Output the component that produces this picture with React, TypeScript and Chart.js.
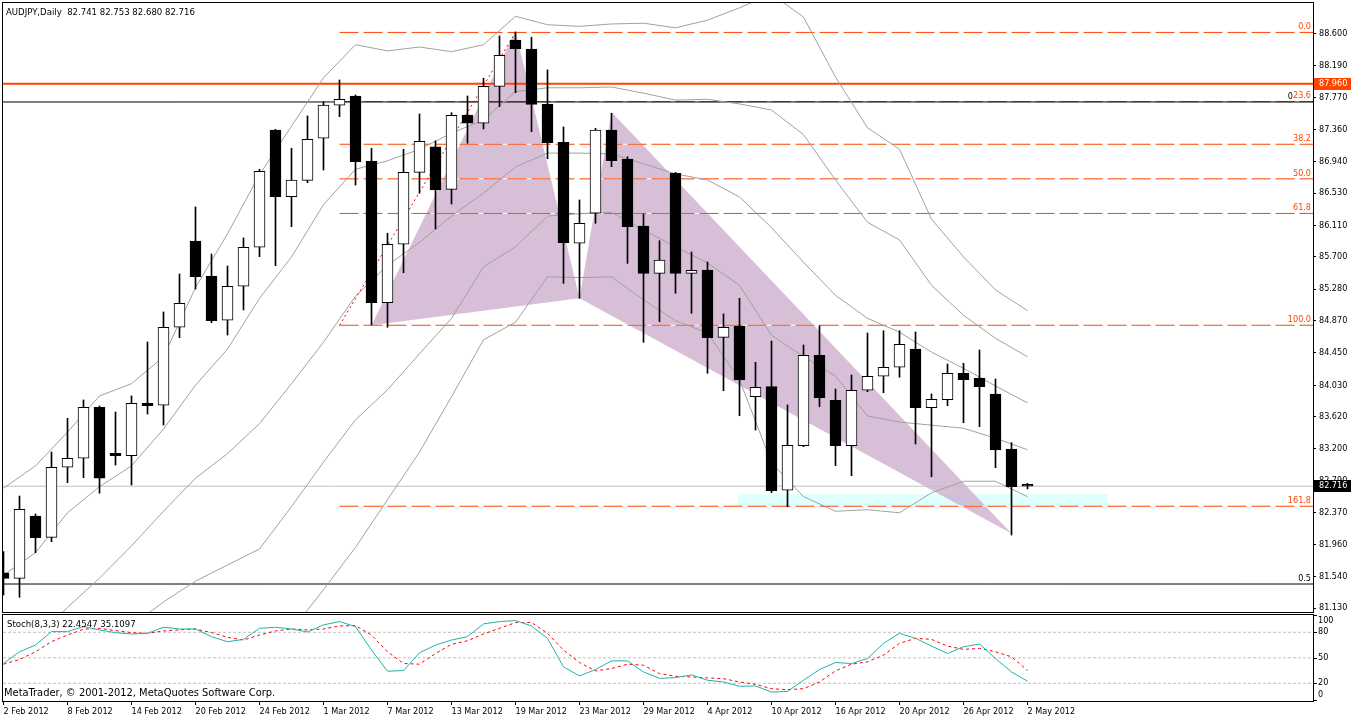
import React, { useEffect, useRef } from 'react';
import { Chart, registerables } from 'chart.js';

Chart.register(...registerables);

const FONT = '"DejaVu Sans Condensed", "DejaVu Sans", sans-serif';
const ORANGE = '#ff4500';

// AUDJPY daily bars, 2 Feb 2012 .. 2 May 2012 (bar index = x value)
const opens = [
  81.590, 81.517, 82.328, 82.051, 82.962, 83.079, 83.743, 83.144, 83.113, 83.795,
  83.769, 84.784, 85.906, 85.451, 84.875, 85.317, 85.825, 87.351, 86.483, 86.696,
  87.243, 87.672, 87.793, 86.947, 85.104, 85.864, 86.800, 87.130, 86.579, 87.546,
  87.438, 87.919, 88.522, 88.405, 87.685, 87.191, 85.877, 86.267, 87.351, 86.973,
  86.102, 85.486, 86.787, 85.486, 85.529, 84.653, 84.800, 83.881, 84.011, 82.663,
  83.243, 84.419, 83.834, 83.243, 83.964, 84.146, 84.263, 84.501, 83.737, 83.842,
  84.185, 84.124, 83.916, 83.200, 82.741,
];
const highs = [
  81.864, 82.588, 82.354, 83.161, 83.600, 83.838, 83.760, 83.681, 83.890, 84.592,
  84.983, 85.477, 86.349, 85.737, 85.581, 85.946, 86.839, 87.360, 87.113, 87.533,
  87.719, 88.001, 87.806, 87.113, 86.007, 87.100, 87.559, 87.208, 87.576, 87.793,
  88.024, 88.574, 88.626, 88.557, 88.132, 87.390, 86.440, 87.373, 87.568, 87.003,
  86.258, 85.910, 86.800, 85.763, 85.633, 84.957, 85.161, 84.328, 84.605, 83.773,
  84.553, 84.804, 83.981, 84.163, 84.709, 84.739, 84.739, 84.722, 83.916, 84.306,
  84.315, 84.488, 84.111, 83.282, 82.753,
];
const lows = [
  81.300, 81.270, 81.851, 81.994, 82.762, 82.827, 82.624, 82.992, 82.732, 83.655,
  83.512, 84.648, 85.282, 84.843, 84.683, 85.009, 85.702, 85.585, 86.093, 86.665,
  86.830, 87.524, 86.635, 84.814, 84.784, 85.494, 86.527, 86.063, 86.388, 87.178,
  87.364, 87.654, 87.836, 87.329, 86.977, 85.356, 85.161, 86.137, 86.873, 85.616,
  84.588, 84.856, 85.226, 84.966, 84.185, 83.959, 83.633, 83.447, 82.631, 82.449,
  83.230, 83.750, 82.983, 82.853, 83.946, 83.933, 84.133, 83.265, 82.840, 83.763,
  83.542, 83.490, 82.957, 82.081, 82.680,
];
const closes = [
  81.517, 82.415, 82.046, 82.962, 83.079, 83.743, 82.819, 83.113, 83.795, 83.763,
  84.784, 85.096, 85.442, 84.869, 85.317, 85.825, 86.813, 86.483, 86.700, 87.230,
  87.676, 87.750, 86.938, 85.104, 85.864, 86.800, 87.204, 86.570, 87.542, 87.438,
  87.919, 88.323, 88.409, 87.685, 87.186, 85.884, 86.137, 87.351, 86.951, 86.093,
  85.486, 85.659, 85.486, 85.525, 84.648, 84.784, 84.098, 84.003, 82.657, 83.248,
  84.419, 83.868, 83.243, 83.964, 84.146, 84.263, 84.562, 83.737, 83.847, 84.185,
  84.102, 84.011, 83.187, 82.709, 82.716,
];

const dateTicks = [0, 4, 8, 12, 16, 20, 24, 28, 32, 36, 40, 44, 48, 52, 56, 60, 64];
const dateLabels = [
  '2 Feb 2012', '8 Feb 2012', '14 Feb 2012', '20 Feb 2012', '24 Feb 2012', '1 Mar 2012',
  '7 Mar 2012', '13 Mar 2012', '19 Mar 2012', '23 Mar 2012', '29 Mar 2012', '4 Apr 2012',
  '10 Apr 2012', '16 Apr 2012', '20 Apr 2012', '26 Apr 2012', '2 May 2012',
];

const priceTicks = [
  88.6, 88.19, 87.77, 87.36, 86.94, 86.53, 86.11, 85.7, 85.28, 84.87,
  84.45, 84.03, 83.62, 83.2, 82.79, 82.37, 81.96, 81.54, 81.13,
];

// bollinger-style envelopes, read every second bar
const bandBars = [
  0, 2, 4, 6, 8, 10, 12, 14, 16, 18, 20, 22, 24, 26, 28, 30, 32,
  34, 36, 38, 40, 42, 44, 46, 48, 50, 52, 54, 56, 58, 60, 62, 64,
];
const bandUpper2 = [
  82.69, 82.98, 83.42, 83.89, 84.05, 84.40, 85.30, 86.00, 86.77, 87.40, 88.03, 88.46, 88.38, 88.43, 88.37, 88.46, 88.83,
  88.72, 88.70, 88.73, 88.74, 88.68, 88.78, 88.94, 89.12, 88.82, 88.04, 87.38, 87.10, 86.19, 85.70, 85.27, 85.00,
];
const bandUpper1 = [
  81.56, 81.85, 82.37, 82.71, 82.98, 83.46, 84.03, 84.50, 85.16, 85.70, 86.38, 86.84, 86.95, 87.10, 87.31, 87.48, 87.85,
  87.90, 87.90, 87.91, 87.83, 87.74, 87.75, 87.69, 87.61, 87.29, 86.70, 86.15, 85.92, 85.33, 84.94, 84.64, 84.40,
];
const bandMiddle = [
  80.43, 80.71, 81.14, 81.52, 81.94, 82.39, 82.82, 83.14, 83.53, 84.05, 84.59, 85.19, 85.59, 85.89, 86.23, 86.53, 86.87,
  87.05, 87.05, 87.04, 86.91, 86.78, 86.70, 86.48, 86.08, 85.63, 85.20, 84.90, 84.72, 84.46, 84.25, 84.02, 83.80,
];
const bandLower1 = [
  79.30, 79.58, 79.92, 80.34, 80.90, 81.21, 81.48, 81.69, 81.90, 82.45, 83.03, 83.58, 83.97, 84.44, 84.90, 85.57, 85.83,
  86.23, 86.26, 86.28, 86.05, 85.83, 85.62, 85.33, 84.68, 84.40, 84.15, 83.63, 83.55, 83.51, 83.47, 83.34, 83.19,
];
const bandLower2 = [
  78.16, 78.45, 78.70, 79.15, 79.86, 80.03, 80.14, 80.25, 80.27, 80.84, 81.37, 81.92, 82.54, 83.16, 83.88, 84.62, 84.85,
  85.44, 85.43, 85.44, 85.14, 84.87, 84.71, 84.10, 83.02, 82.58, 82.39, 82.41, 82.37, 82.63, 82.78, 82.78, 82.58,
];

// Stoch(8,3,3)
const stochK = [
  43.3, 57.1, 65.0, 80.8, 80.8, 86.7, 82.8, 79.6, 78.0, 78.8,
  85.9, 83.9, 83.9, 74.9, 68.9, 71.7, 84.7, 85.9, 83.9, 80.4,
  88.7, 92.6, 86.7, 59.1, 34.2, 35.0, 55.9, 65.0, 70.9, 74.9,
  89.9, 92.6, 93.8, 87.5, 72.9, 39.3, 28.7, 36.2, 46.4, 46.4,
  33.4, 25.9, 26.7, 29.9, 23.6, 21.6, 16.5, 16.9, 9.7, 10.5,
  23.6, 36.2, 44.5, 43.3, 49.2, 67.0, 78.8, 72.9, 63.8, 55.1,
  63.0, 66.2, 49.2, 33.4, 22.4547,
];
const stochD = [
  42.5, 48.0, 57.1, 69.0, 76.8, 83.6, 84.7, 82.0, 79.6, 78.8,
  81.6, 82.8, 83.9, 79.6, 74.1, 70.9, 76.8, 81.6, 83.9, 82.8,
  83.9, 87.5, 87.9, 76.8, 57.1, 43.3, 42.5, 55.1, 65.8, 70.1,
  78.0, 84.7, 91.4, 91.6, 78.8, 59.1, 44.5, 34.6, 37.4, 42.5,
  41.3, 31.5, 28.3, 27.5, 26.3, 25.5, 21.6, 18.8, 13.7, 12.5,
  13.7, 21.6, 34.6, 42.5, 45.3, 53.2, 67.0, 72.9, 71.7, 63.8,
  59.9, 61.1, 57.1, 51.2, 35.1097,
];
const stochLevels = [80, 50, 20];
const stochAxisLabels = [100, 80, 50, 20, 0];

// chart objects
const fibLevels = ['0.0', '23.6', '38.2', '50.0', '61.8', '100.0', '161.8'];
const fibPrices = [88.62, 87.72, 87.165, 86.715, 86.265, 84.81, 82.455];
const fibStartBar = 21;
const trendBars = [21, 32];
const trendPrices = [84.81, 88.62];
const xabBars = [23, 32, 36];
const xabPrices = [84.81, 88.64, 85.16];
const bcdBars = [36, 38, 63];
const bcdPrices = [85.16, 87.585, 82.1];
const zoneBars = [45.9, 45.9, 69, 69];
const zonePrices = [82.445, 82.615, 82.615, 82.445];
const resistanceLevel = 87.953;
const blackLevel = 87.715;
const lowLevel = 81.443;
const bidLevel = 82.716;

const X_MIN = -0.03125;
const X_MAX = 81.84375;
const Y_MIN = 81.079;
const Y_MAX = 89.003;

const fmt3 = (v: number) => v.toFixed(3);

function lineSet(data: any[], color: string, extra: any = {}) {
  return {
    type: 'line',
    data,
    borderColor: color,
    borderWidth: 1,
    pointRadius: 0,
    fill: false,
    tension: 0,
    ...extra,
  };
}

function polygon(bars: number[], prices: number[], color: string, order: number) {
  return lineSet(
    bars.map((b, k) => ({ x: b, y: prices[k] })),
    'rgba(0,0,0,0)',
    { fill: 'shape', backgroundColor: color, order },
  );
}

const fullSpan = (v: number) => [{ x: X_MIN, y: v }, { x: X_MAX, y: v }];

const mainOverlay = {
  id: 'mainOverlay',
  afterDraw(chart: any) {
    const { ctx, chartArea: a } = chart;
    const y = chart.scales.y;
    ctx.save();
    ctx.strokeStyle = '#000';
    ctx.lineWidth = 1;
    ctx.strokeRect(a.left - 0.5, a.top - 0.5, a.right - a.left + 1, a.bottom - a.top + 1);

    ctx.font = `9.5px ${FONT}`;
    ctx.fillStyle = '#000';
    ctx.textAlign = 'left';
    ctx.textBaseline = 'middle';
    const n = closes.length - 1;
    ctx.fillText(
      `AUDJPY,Daily  ${fmt3(opens[n])} ${fmt3(highs[n])} ${fmt3(lows[n])} ${fmt3(closes[n])}`,
      6, 13,
    );

    ctx.font = `9px ${FONT}`;
    ctx.textAlign = 'right';
    ctx.textBaseline = 'bottom';
    ctx.fillText('0', 1293, y.getPixelForValue(blackLevel) - 1);
    ctx.fillText('0.5', 1311, y.getPixelForValue(lowLevel) - 1);
    ctx.fillStyle = ORANGE;
    fibPrices.forEach((p, k) => ctx.fillText(fibLevels[k], 1311, y.getPixelForValue(p) - 1));

    const box = (v: number, text: string, bg: string) => {
      const py = Math.round(y.getPixelForValue(v));
      ctx.fillStyle = bg;
      ctx.fillRect(a.right + 1, py - 6, chart.width - a.right - 1, 12);
      ctx.fillStyle = '#fff';
      ctx.textAlign = 'left';
      ctx.textBaseline = 'middle';
      ctx.fillText(text, a.right + 6, py);
    };
    box(resistanceLevel, '87.960', ORANGE);
    box(bidLevel, fmt3(bidLevel), '#000');
    ctx.restore();
  },
};

const stochOverlay = {
  id: 'stochOverlay',
  afterDraw(chart: any) {
    const { ctx, chartArea: a } = chart;
    const y = chart.scales.y;
    ctx.save();
    ctx.strokeStyle = '#000';
    ctx.lineWidth = 1;
    ctx.strokeRect(a.left - 0.5, a.top - 0.5, a.right - a.left + 1, a.bottom - a.top + 1);

    ctx.fillStyle = '#000';
    ctx.textBaseline = 'middle';
    ctx.textAlign = 'left';
    ctx.font = `9.5px ${FONT}`;
    const n = stochK.length - 1;
    ctx.fillText(`Stoch(8,3,3) ${stochK[n].toFixed(4)} ${stochD[n].toFixed(4)}`, 7, 13);
    ctx.font = `11px ${FONT}`;
    ctx.fillText('MetaTrader, \u00a9 2001-2012, MetaQuotes Software Corp.', 4, 81);

    ctx.font = `9px ${FONT}`;
    stochAxisLabels.forEach((v) => {
      const py = Math.round(y.getPixelForValue(v));
      const ty = Math.min(Math.max(py, a.top + 6), a.bottom - 6);
      ctx.fillRect(a.right + 1, py, 3, 1);
      ctx.fillText(String(v), a.right + 5, ty);
    });
    ctx.restore();
  },
};

export default function App() {
  const mainRef = useRef<HTMLCanvasElement | null>(null);
  const stochRef = useRef<HTMLCanvasElement | null>(null);

  useEffect(() => {
    document.body.style.margin = '0';
    if (!mainRef.current || !stochRef.current) return;

    const bars = closes.map((_, i) => i);
    const bodyColors = bars.map((i) => (closes[i] >= opens[i] ? '#ffffff' : '#000000'));
    const bandSets = [bandUpper2, bandUpper1, bandMiddle, bandLower1, bandLower2].map((arr) =>
      lineSet(arr.map((v, k) => ({ x: bandBars[k], y: v })), '#a0a0a0', { order: 3 }),
    );
    const fibSpan = (p: number) => [{ x: fibStartBar, y: p }, { x: X_MAX, y: p }];

    const mainChart = new Chart(mainRef.current, {
      type: 'bar',
      data: {
        datasets: [
          {
            type: 'bar',
            order: 0,
            data: bars.map((i) => ({ x: i, y: [opens[i], closes[i]] })),
            backgroundColor: bodyColors,
            borderColor: '#000',
            borderWidth: 1,
            borderSkipped: false,
            barThickness: 11,
            grouped: false,
            minBarLength: 1,
          },
          {
            type: 'bar',
            order: 1,
            data: bars.map((i) => ({ x: i, y: [lows[i], highs[i]] })),
            backgroundColor: '#000',
            borderWidth: 0,
            barThickness: 1,
            grouped: false,
          },
          lineSet(trendBars.map((b, k) => ({ x: b, y: trendPrices[k] })), '#ff0000', {
            order: 2,
            borderDash: [2, 3],
          }),
          ...bandSets,
          lineSet(fullSpan(bidLevel), '#c0c0c0', { order: 4 }),
          lineSet(fullSpan(resistanceLevel), ORANGE, { order: 4, borderWidth: 2 }),
          lineSet(fullSpan(blackLevel), '#000', { order: 4 }),
          lineSet(fullSpan(lowLevel), '#000', { order: 4 }),
          ...fibPrices.map((p) => lineSet(fibSpan(p), ORANGE, { order: 5, borderDash: [19, 5] })),
          ...fibPrices.map((p) => lineSet(fibSpan(p), '#ffffff', { order: 6 })),
          polygon(xabBars, xabPrices, 'rgba(203,170,203,0.75)', 8),
          polygon(bcdBars, bcdPrices, 'rgba(203,170,203,0.75)', 8),
          polygon(zoneBars, zonePrices, '#e0ffff', 9),
        ] as any,
      },
      options: {
        responsive: false,
        animation: false,
        devicePixelRatio: 1,
        events: [],
        layout: { padding: { left: 3, top: 3, right: 0, bottom: 2 } },
        plugins: { legend: { display: false }, tooltip: { enabled: false } },
        scales: {
          x: { type: 'linear', min: X_MIN, max: X_MAX, display: false, offset: false, grid: { offset: false } },
          y: {
            type: 'linear',
            position: 'right',
            min: Y_MIN,
            max: Y_MAX,
            afterBuildTicks: (s: any) => {
              s.ticks = priceTicks.map((v) => ({ value: v }));
            },
            afterFit: (s: any) => {
              s.width = 38;
              s.paddingTop = 0;
              s.paddingBottom = 0;
            },
            ticks: {
              autoSkip: false,
              padding: 3,
              color: '#000',
              font: { family: FONT, size: 9 },
              callback: (v: any) => Number(v).toFixed(3),
            },
            grid: { drawOnChartArea: false, drawTicks: true, tickLength: 3, color: '#000' },
            border: { display: false },
          },
        },
      } as any,
      plugins: [mainOverlay],
    });

    const stochChart = new Chart(stochRef.current, {
      type: 'line',
      data: {
        datasets: [
          lineSet(stochK.map((v, i) => ({ x: i, y: v })), '#20b2aa', { order: 0 }),
          lineSet(stochD.map((v, i) => ({ x: i, y: v })), '#ff0000', { order: 1, borderDash: [3, 3] }),
          ...stochLevels.map((v) =>
            lineSet(fullSpan(v), '#c0c0c0', { order: 2, borderDash: [3, 2] }),
          ),
        ] as any,
      },
      options: {
        responsive: false,
        animation: false,
        devicePixelRatio: 1,
        events: [],
        layout: { padding: { left: 3, top: 3, right: 38, bottom: 0 } },
        plugins: { legend: { display: false }, tooltip: { enabled: false } },
        scales: {
          x: {
            type: 'linear',
            min: X_MIN,
            max: X_MAX,
            offset: false,
            afterBuildTicks: (s: any) => {
              s.ticks = dateTicks.map((v) => ({ value: v }));
            },
            afterFit: (s: any) => {
              s.height = 17;
              s.paddingLeft = 0;
              s.paddingRight = 0;
            },
            ticks: {
              autoSkip: false,
              maxRotation: 0,
              align: 'start',
              padding: 1,
              color: '#000',
              font: { family: FONT, size: 9 },
              callback: (v: any) => dateLabels[dateTicks.indexOf(Number(v))] ?? '',
            },
            grid: { drawOnChartArea: false, drawTicks: true, tickLength: 4, color: '#000', offset: false },
            border: { display: false },
          },
          y: { type: 'linear', display: false, min: -0.8, max: 100.35 },
        },
      } as any,
      plugins: [stochOverlay],
    });

    return () => {
      mainChart.destroy();
      stochChart.destroy();
    };
  }, []);

  return (
    <div style={{ position: 'absolute', left: 0, top: 0, width: 1351, height: 718, background: '#fff' }}>
      <canvas
        ref={mainRef}
        width={1351}
        height={614}
        style={{ position: 'absolute', left: 0, top: 0, width: 1351, height: 614 }}
      />
      <canvas
        ref={stochRef}
        width={1351}
        height={106}
        style={{ position: 'absolute', left: 0, top: 612, width: 1351, height: 106 }}
      />
    </div>
  );
}
